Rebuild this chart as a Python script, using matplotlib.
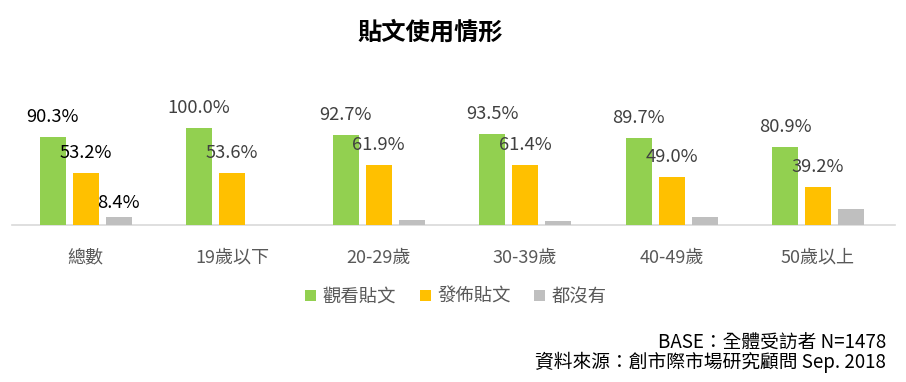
import matplotlib
matplotlib.use("Agg")
import matplotlib.pyplot as plt
from matplotlib.patches import Patch
import numpy as np

plt.rcParams['font.family'] = ['Noto Sans CJK TC', 'DejaVu Sans']

categories = ["總數", "19歲以下", "20-29歲", "30-39歲", "40-49歲", "50歲以上"]
series_names = ["觀看貼文", "發佈貼文", "都沒有"]
view_posts = [90.3, 100.0, 92.7, 93.5, 89.7, 80.9]
publish_posts = [53.2, 53.6, 61.9, 61.4, 49.0, 39.2]
neither = [8.4, 0.0, 5.4, 4.3, 8.6, 16.6]
show_neither_label = [True, False, False, False, False, False]
colors = ["#92d050", "#ffc000", "#bfbfbf"]

W, H = 906, 382
fig = plt.figure(figsize=(W / 100, H / 100), dpi=100)
fig.patch.set_facecolor("white")

ax_left, ax_right = 12, 895
base_y = 225
px_per_unit = 0.97
ymax = 120
ax_h = ymax * px_per_unit
ax = fig.add_axes([ax_left / W, (H - base_y) / H, (ax_right - ax_left) / W, ax_h / H])

x = np.arange(len(categories))
spacing_px = 146.5
xl = -(85.5 - ax_left) / spacing_px
xr = xl + (ax_right - ax_left) / spacing_px
ax.set_xlim(xl, xr)
ax.set_ylim(0, ymax)

bw = 26 / spacing_px
off = 33 / spacing_px
series = [view_posts, publish_posts, neither]
for i, (vals, c) in enumerate(zip(series, colors)):
    xs = x + (i - 1) * off
    ax.bar(xs, vals, width=bw, color=c, zorder=3)
    for j, (xx, v) in enumerate(zip(xs, vals)):
        if i == 2 and not show_neither_label[j]:
            continue
        col = "#000000" if j == 0 else "#404040"
        dy = 14 if i == 2 else 20
        ax.annotate(f"{v:.1f}%", (xx, v), xytext=(0, dy * 0.72), textcoords="offset points",
                    ha="center", va="center", fontsize=13.2, color=col, annotation_clip=False)

for s in ["top", "right", "left"]:
    ax.spines[s].set_visible(False)
ax.spines["bottom"].set_color("#d9d9d9")
ax.spines["bottom"].set_linewidth(1.2)
ax.set_yticks([])
ax.set_xticks(x)
ax.set_xticklabels(categories, fontsize=13, color="#595959")
ax.tick_params(axis="x", length=0, pad=17)

fig.text(430 / W, 1 - 33 / H, "貼文使用情形", ha="center", va="center",
         fontsize=17.5, fontweight="bold", color="#000000")

handles = [Patch(facecolor=c, edgecolor="none") for c in colors]
leg = fig.legend(handles, series_names, loc="center", bbox_to_anchor=(456 / W, 1 - 297 / H),
                 ncol=3, frameon=False, fontsize=13.2, handlelength=0.6, handleheight=0.6,
                 handletextpad=0.35, columnspacing=1.3)
for t in leg.get_texts():
    t.set_color("#595959")

fig.text(886 / W, 1 - 342 / H, "BASE：全體受訪者 N=1478", ha="right", va="center",
         fontsize=13.5, color="#000000")
fig.text(886 / W, 1 - 362 / H, "資料來源：創市際市場研究顧問 Sep. 2018", ha="right", va="center",
         fontsize=13.5, color="#000000")

fig.savefig("out.png", dpi=100, facecolor="white")
